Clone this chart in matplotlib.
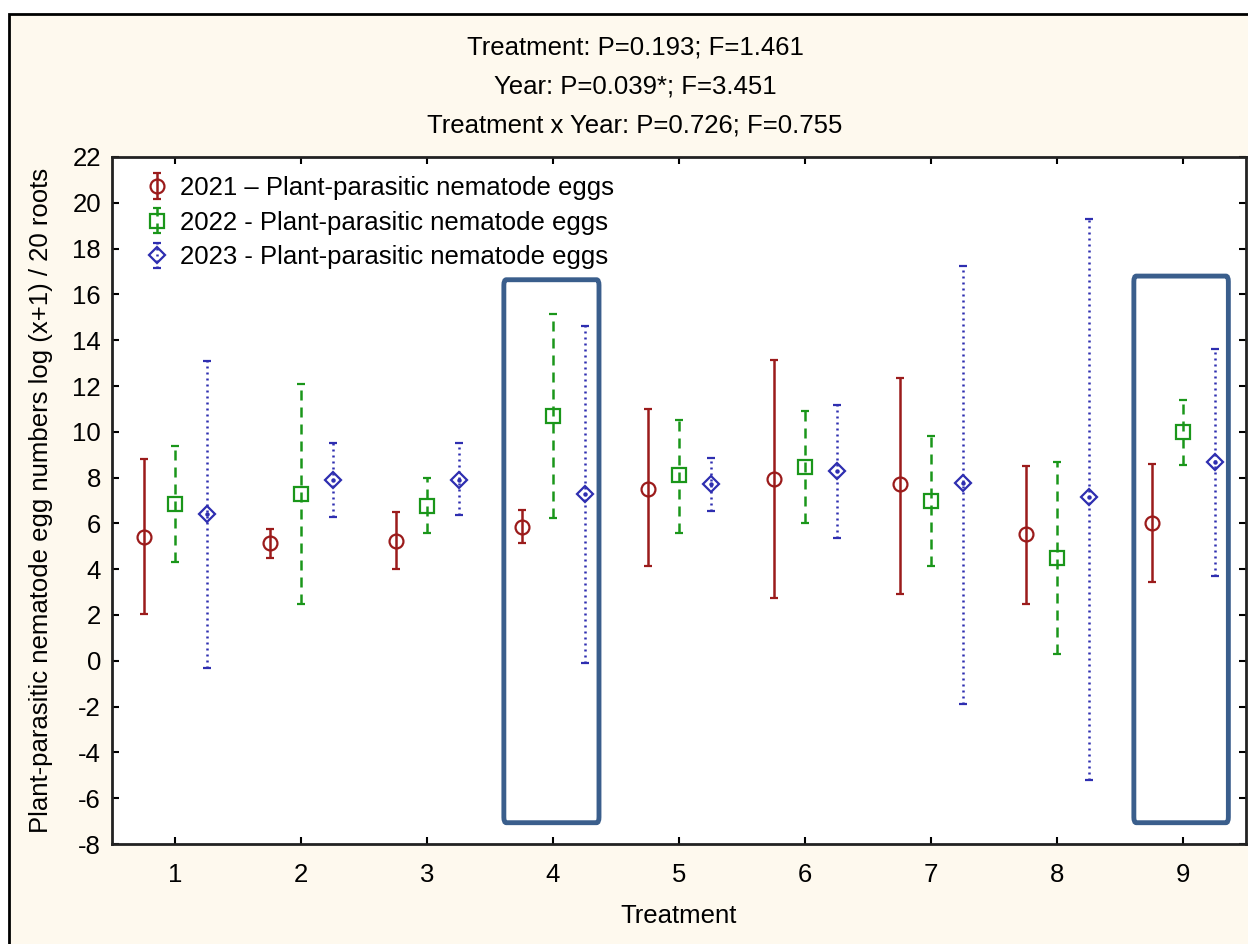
import matplotlib
matplotlib.use("Agg")
import matplotlib.pyplot as plt
from matplotlib.patches import Rectangle, FancyBboxPatch
import numpy as np

plt.rcParams['font.family'] = ['Liberation Sans', 'DejaVu Sans']
plt.rcParams['axes.unicode_minus'] = False

treatments = [1, 2, 3, 4, 5, 6, 7, 8, 9]

# Means with lower / upper confidence limits for each year
mean_2021 = [5.4, 5.15, 5.25, 5.85, 7.5, 7.95, 7.7, 5.55, 6.0]
low_2021 = [2.05, 4.5, 4.0, 5.15, 4.15, 2.75, 2.9, 2.5, 3.45]
high_2021 = [8.8, 5.75, 6.5, 6.6, 11.0, 13.15, 12.35, 8.5, 8.6]

mean_2022 = [6.85, 7.3, 6.75, 10.7, 8.1, 8.45, 7.0, 4.5, 10.0]
low_2022 = [4.3, 2.5, 5.6, 6.25, 5.6, 6.0, 4.15, 0.3, 8.55]
high_2022 = [9.4, 12.1, 8.0, 15.15, 10.5, 10.9, 9.8, 8.7, 11.4]

mean_2023 = [6.4, 7.9, 7.9, 7.3, 7.7, 8.3, 7.75, 7.15, 8.7]
low_2023 = [-0.3, 6.3, 6.35, -0.1, 6.55, 5.35, -1.9, -5.2, 3.7]
high_2023 = [13.1, 9.5, 9.5, 14.6, 8.85, 11.15, 17.25, 19.3, 13.6]

labels = ["2021 \u2013 Plant-parasitic nematode eggs",
          "2022 - Plant-parasitic nematode eggs",
          "2023 - Plant-parasitic nematode eggs"]

stats_lines = ["Treatment: P=0.193; F=1.461",
               "Year: P=0.039*; F=3.451",
               "Treatment x Year: P=0.726; F=0.755"]

FS = 18.5
W, H = 1248, 944
fig = plt.figure(figsize=(W / 100, H / 100), dpi=100)
fig.patch.set_facecolor('white')

# beige panel with black border, behind the axes
panel = Rectangle((9 / W, -0.1), 1.2, 1.1 - 14 / H, transform=fig.transFigure,
                  facecolor='#FEF9EE', edgecolor='black', linewidth=2,
                  zorder=-1)
fig.patches.append(panel)

ax = fig.add_axes([112 / W, 1 - 844 / H, (1246 - 112) / W, (844 - 157) / H])
ax.set_facecolor('white')

x = np.array(treatments, dtype=float)
series = [
    (x - 0.25, mean_2021, low_2021, high_2021, '#9B1B1B', 'o', '-', 10),
    (x, mean_2022, low_2022, high_2022, '#1A961A', 's', (0, (4, 2.8)), 10),
    (x + 0.25, mean_2023, low_2023, high_2023, '#2E2EB0', 'D', (0, (0.8, 1.6)), 8.5),
]

handles = []
for (xs, m, lo, hi, col, mk, ls, ms), lab in zip(series, labels):
    m = np.array(m)
    err = np.vstack([m - np.array(lo), np.array(hi) - m])
    cont = ax.errorbar(xs, m, yerr=err, fmt=mk, color=col, mfc='none',
                       mec=col, ms=ms, mew=1.6, elinewidth=1.8, capsize=3.2,
                       capthick=1.8, label=lab, zorder=3)
    for lc in cont[2]:
        lc.set_linestyle(ls)
    handles.append(cont)
    if mk == 'D':
        ax.plot(xs, m, linestyle='none', marker='o', ms=2.2, color=col,
                zorder=4)

ax.set_xlim(0.5, 9.5)
ax.set_ylim(-8, 22)
ax.set_xticks(treatments)
ax.set_yticks(np.arange(-8, 23, 2))
ax.tick_params(direction='in', length=5, width=1.5, labelsize=FS,
               top=True, right=True, pad=8)
ax.tick_params(axis='x', pad=14)
for sp in ax.spines.values():
    sp.set_linewidth(2)
    sp.set_color('#222222')

ax.set_xlabel('Treatment', fontsize=FS, labelpad=12)
ax.set_ylabel('Plant-parasitic nematode egg numbers log (x+1) / 20 roots',
              fontsize=FS, labelpad=14)

leg = ax.legend(handles=handles, labels=labels, loc='upper left',
                frameon=False, fontsize=FS, handlelength=1.0,
                handletextpad=0.4, labelspacing=0.42,
                bbox_to_anchor=(0.015, 0.995), borderaxespad=0.2)

# highlight boxes
for (x0, x1, y0, y1) in [(3.61, 4.365, -7.07, 16.64), (8.61, 9.36, -7.07, 16.8)]:
    box = FancyBboxPatch((x0, y0), x1 - x0, y1 - y0,
                         boxstyle='round,pad=0,rounding_size=0.02',
                         fill=False, edgecolor='#3A5E8C', linewidth=3.5,
                         zorder=5, mutation_aspect=12)
    ax.add_patch(box)

for i, line in enumerate(stats_lines):
    fig.text(635 / W, 1 - (48 + 38.5 * i) / H, line, ha='center', va='center',
             fontsize=FS)

fig.savefig('out.png', dpi=100, facecolor=fig.get_facecolor())
